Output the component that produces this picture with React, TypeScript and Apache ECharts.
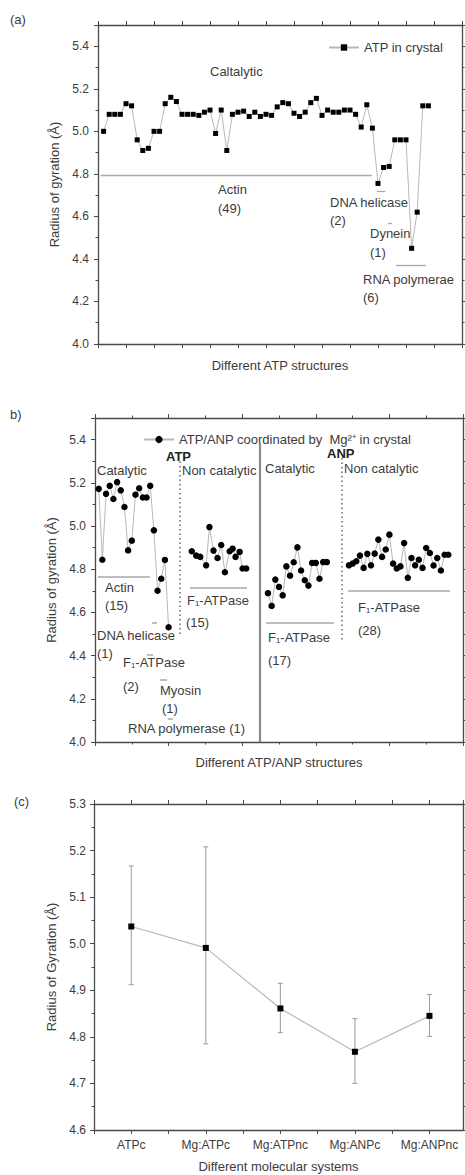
import React, { useEffect, useRef } from "react";
import * as echarts from "echarts";

const FONT = "'Liberation Sans', Arial, Helvetica, sans-serif";
const TXT = "#3c3c3c";
const AXC = "#4a4a4a";
const LINEC = "#b8b8b8";
const MARKC = "#a8a8a8";

// ---------------- panel (a) ----------------
const atpLegend = "ATP in crystal";
const atpRg = [
  5.0, 5.08, 5.08, 5.08, 5.13, 5.12, 4.96, 4.91, 4.92, 5.0,
  5.0, 5.13, 5.16, 5.14, 5.08, 5.08, 5.08, 5.075, 5.09, 5.1,
  4.99, 5.1, 4.91, 5.08, 5.09, 5.095, 5.07, 5.09, 5.07, 5.08,
  5.075, 5.115, 5.135, 5.13, 5.085, 5.07, 5.09, 5.135, 5.155, 5.075,
  5.1, 5.09, 5.09, 5.1, 5.1, 5.08, 5.02, 5.125, 5.015,
  4.755, 4.83, 4.835, 4.96, 4.96, 4.96, 4.45, 4.62, 5.12, 5.12,
];
// group marker segments [xStart, xEnd, y]
const aGroupLines = [
  [0.5, 48.9, 4.794],
  [49.8, 51.3, 4.717],
  [51.8, 52.5, 4.57],
  [53.2, 58.6, 4.372],
];

// ---------------- panel (b) ----------------
const bLegend = "ATP/ANP coordinated by  Mg²⁺ in crystal";
const catAtpStart = 1;
const catAtpRg = [
  5.172, 4.844, 5.149, 5.186, 5.125, 5.203, 5.165, 5.088, 4.887, 4.932,
  5.145, 5.175, 5.132, 5.132, 5.186, 4.98, 4.7, 4.756, 4.843, 4.531,
];
const nonCatAtpX = [26.3, 27.5, 28.6, 30.2, 31.1, 32.2, 33.3, 34.3, 35.3, 36.6, 37.4, 38.2, 39.3, 40.1, 41.1];
const nonCatAtpRg = [4.883, 4.863, 4.857, 4.818, 4.995, 4.886, 4.852, 4.912, 4.786, 4.883, 4.895, 4.857, 4.88, 4.803, 4.803];
const catAnpStart = 47;
const catAnpRg = [
  4.689, 4.63, 4.752, 4.718, 4.679, 4.813, 4.77, 4.832, 4.901, 4.794,
  4.749, 4.724, 4.829, 4.829, 4.756, 4.833, 4.833,
];
const nonCatAnpStart = 69;
const nonCatAnpRg = [
  4.818, 4.826, 4.837, 4.863, 4.806, 4.871, 4.818, 4.872, 4.937, 4.857,
  4.891, 4.96, 4.826, 4.803, 4.813, 4.921, 4.76, 4.852, 4.818, 4.844,
  4.806, 4.898, 4.875, 4.817, 4.852, 4.794, 4.867, 4.867,
];
const bGroupLines = [
  [0.8, 14.9, 4.767],
  [25.8, 41.3, 4.715],
  [46.5, 64.9, 4.551],
  [68.75, 96.5, 4.7],
  [15.5, 16.8, 4.55],
  [14.1, 15.8, 4.402],
  [17.7, 19.6, 4.286],
  [19.8, 21.2, 4.106],
];
const bSolidDivider = [44.7, 4.0, 5.385];
const bDottedDividers = [
  [23.0, 4.5, 5.3],
  [67.0, 4.475, 5.33],
];

// ---------------- panel (c) ----------------
const systems = ["ATPc", "Mg:ATPc", "Mg:ATPnc", "Mg:ANPc", "Mg:ANPnc"];
const rgMean = [5.037, 4.991, 4.861, 4.768, 4.845];
const rgLow = [4.912, 4.785, 4.809, 4.7, 4.801];
const rgHigh = [5.167, 5.208, 4.915, 4.839, 4.891];

// ---------------- annotations (pixel layout) ----------------
const notes: { x: number; y: number; t: string; b?: boolean }[] = [
  { x: 10, y: 19, t: "(a)" },
  { x: 210, y: 71, t: "Caltalytic" },
  { x: 218, y: 189, t: "Actin" },
  { x: 218, y: 208, t: "(49)" },
  { x: 330, y: 202, t: "DNA helicase" },
  { x: 330, y: 220, t: "(2)" },
  { x: 370, y: 233, t: "Dynein" },
  { x: 370, y: 252, t: "(1)" },
  { x: 363, y: 279, t: "RNA polymerae" },
  { x: 363, y: 297, t: "(6)" },
  { x: 10, y: 414, t: "b)" },
  { x: 166, y: 456, t: "ATP", b: true },
  { x: 97, y: 470, t: "Catalytic" },
  { x: 182, y: 470, t: "Non catalytic" },
  { x: 265, y: 468, t: "Catalytic" },
  { x: 327, y: 453, t: "ANP", b: true },
  { x: 344, y: 468, t: "Non catalytic" },
  { x: 105, y: 587, t: "Actin" },
  { x: 105, y: 605, t: "(15)" },
  { x: 187, y: 600, t: "F₁-ATPase" },
  { x: 186, y: 622, t: "(15)" },
  { x: 97, y: 635, t: "DNA helicase" },
  { x: 97, y: 653, t: "(1)" },
  { x: 123, y: 662, t: "F₁-ATPase" },
  { x: 123, y: 686, t: "(2)" },
  { x: 160, y: 690, t: "Myosin" },
  { x: 162, y: 708, t: "(1)" },
  { x: 128, y: 728, t: "RNA polymerase (1)" },
  { x: 268, y: 637, t: "F₁-ATPase" },
  { x: 268, y: 660, t: "(17)" },
  { x: 358, y: 607, t: "F₁-ATPase" },
  { x: 358, y: 630, t: "(28)" },
  { x: 14, y: 801, t: "(c)" },
];

const segs = (list: number[][], style: any) =>
  list.map((s) => [
    { coord: [s[0], s[2]], lineStyle: style },
    { coord: [s[1], s[2]] },
  ]);

const vsegs = (list: number[][], style: any) =>
  list.map((s) => [
    { coord: [s[0], s[1]], lineStyle: style },
    { coord: [s[0], s[2]] },
  ]);

export default function App() {
  const ref = useRef<HTMLDivElement>(null);
  useEffect(() => {
    if (!ref.current) return;
    const chart = echarts.init(ref.current, undefined, { renderer: "svg" });

    const axisLine = { show: true, onZero: false, lineStyle: { color: AXC, width: 1.3 } };
    const tick = { show: true, inside: false, length: 4, lineStyle: { color: AXC, width: 1 } };
    const minor = { show: true, splitNumber: 2, length: 2.5, lineStyle: { color: AXC, width: 1 } };
    const lbl = { color: TXT, fontSize: 12, fontFamily: FONT };
    const nameStyle = { color: TXT, fontSize: 13, fontFamily: FONT };
    const noSplit = { show: false };

    const xBase = (grid: number, pos: string, min: number, max: number, interval: number, useMinor: boolean) => ({
      type: "value",
      gridIndex: grid,
      position: pos,
      min,
      max,
      interval,
      axisLine,
      axisTick: tick,
      minorTick: useMinor ? minor : { show: false },
      splitLine: noSplit,
      minorSplitLine: noSplit,
      axisLabel: { show: false },
    });

    const yBase = (grid: number, pos: string, min: number, max: number, interval: number) => ({
      type: "value",
      gridIndex: grid,
      position: pos,
      min,
      max,
      interval,
      axisLine,
      axisTick: tick,
      minorTick: minor,
      splitLine: noSplit,
      minorSplitLine: noSplit,
      axisLabel: { show: false },
    });

    const option: any = {
      animation: false,
      backgroundColor: "#ffffff",
      textStyle: { fontFamily: FONT },
      grid: [
        { left: 98, top: 25, width: 364, height: 319 },
        { left: 95, top: 418, width: 368, height: 324 },
        { left: 94, top: 804, width: 369, height: 326 },
      ],
      legend: [
        {
          data: [atpLegend],
          left: 328,
          top: 41,
          padding: 0,
          itemWidth: 30,
          itemHeight: 8,
          textStyle: { color: TXT, fontSize: 13, fontFamily: FONT },
        },
        {
          data: [bLegend],
          left: 143,
          top: 433,
          padding: 0,
          itemWidth: 30,
          itemHeight: 9,
          textStyle: { color: TXT, fontSize: 13, fontFamily: FONT },
        },
      ],
      xAxis: [
        {
          ...xBase(0, "bottom", 0, 65, 5, false),
          name: "Different ATP structures",
          nameLocation: "middle",
          nameGap: 15,
          nameTextStyle: nameStyle,
        },
        xBase(0, "top", 0, 65, 5, false),
        {
          ...xBase(1, "bottom", 0, 100, 20, true),
          name: "Different ATP/ANP structures",
          nameLocation: "middle",
          nameGap: 14,
          nameTextStyle: nameStyle,
        },
        xBase(1, "top", 0, 100, 20, true),
        {
          ...xBase(2, "bottom", 0.5, 5.45, 0.5, false),
          axisLabel: {
            ...lbl,
            show: true,
            margin: 9,
            showMaxLabel: false,
            formatter: (v: number) => (Number.isInteger(v) ? systems[v - 1] : ""),
          },
          name: "Different molecular systems",
          nameLocation: "middle",
          nameGap: 30,
          nameTextStyle: nameStyle,
        },
        xBase(2, "top", 0.5, 5.45, 0.5, false),
      ],
      yAxis: [
        {
          ...yBase(0, "left", 4.0, 5.5, 0.2),
          axisLabel: { ...lbl, show: true, margin: 9, showMaxLabel: false, formatter: (v: number) => v.toFixed(1) },
          name: "Radius of gyration (Å)",
          nameLocation: "middle",
          nameGap: 33,
          nameTextStyle: nameStyle,
        },
        yBase(0, "right", 4.0, 5.5, 0.2),
        {
          ...yBase(1, "left", 4.0, 5.5, 0.2),
          axisLabel: { ...lbl, show: true, margin: 9, showMaxLabel: false, formatter: (v: number) => v.toFixed(1) },
          name: "Radius of gyration (Å)",
          nameLocation: "middle",
          nameGap: 32,
          nameTextStyle: nameStyle,
        },
        yBase(1, "right", 4.0, 5.5, 0.2),
        {
          ...yBase(2, "left", 4.6, 5.3, 0.1),
          axisLabel: { ...lbl, show: true, margin: 8, formatter: (v: number) => v.toFixed(1) },
          name: "Radius of Gyration (Å)",
          nameLocation: "middle",
          nameGap: 36,
          nameTextStyle: nameStyle,
        },
        yBase(2, "right", 4.6, 5.3, 0.1),
      ],
      series: [
        {
          name: atpLegend,
          type: "line",
          xAxisIndex: 0,
          yAxisIndex: 0,
          data: atpRg.map((v, i) => [i + 1, v]),
          symbol: "rect",
          symbolSize: 5,
          itemStyle: { color: "#000" },
          lineStyle: { color: LINEC, width: 1 },
          z: 3,
          markLine: {
            silent: true,
            symbol: "none",
            label: { show: false },
            data: segs(aGroupLines, { color: MARKC, width: 1.3, type: "solid" }),
          },
        },
        {
          name: bLegend,
          type: "line",
          xAxisIndex: 2,
          yAxisIndex: 2,
          data: catAtpRg.map((v, i) => [catAtpStart + i, v]),
          symbol: "circle",
          symbolSize: 6.5,
          itemStyle: { color: "#000" },
          lineStyle: { color: LINEC, width: 1 },
          z: 3,
          markLine: {
            silent: true,
            symbol: "none",
            label: { show: false },
            data: [
              ...segs(bGroupLines, { color: MARKC, width: 1.5, type: "solid" }),
              ...vsegs([bSolidDivider], { color: "#8a8a8a", width: 2.2, type: "solid" }),
              ...vsegs(bDottedDividers, { color: "#666", width: 1.5, type: [1.5, 3] }),
            ],
          },
        },
        {
          name: bLegend,
          type: "line",
          xAxisIndex: 2,
          yAxisIndex: 2,
          data: nonCatAtpRg.map((v, i) => [nonCatAtpX[i], v]),
          symbol: "circle",
          symbolSize: 6.5,
          itemStyle: { color: "#000" },
          lineStyle: { color: LINEC, width: 1 },
          z: 3,
        },
        {
          name: bLegend,
          type: "line",
          xAxisIndex: 2,
          yAxisIndex: 2,
          data: catAnpRg.map((v, i) => [catAnpStart + i, v]),
          symbol: "circle",
          symbolSize: 6.5,
          itemStyle: { color: "#000" },
          lineStyle: { color: LINEC, width: 1 },
          z: 3,
        },
        {
          name: bLegend,
          type: "line",
          xAxisIndex: 2,
          yAxisIndex: 2,
          data: nonCatAnpRg.map((v, i) => [nonCatAnpStart + i, v]),
          symbol: "circle",
          symbolSize: 6.5,
          itemStyle: { color: "#000" },
          lineStyle: { color: LINEC, width: 1 },
          z: 3,
        },
        {
          name: "errors",
          type: "custom",
          xAxisIndex: 4,
          yAxisIndex: 4,
          data: systems.map((_, i) => [i + 1, rgLow[i], rgHigh[i]]),
          encode: { x: 0, y: [1, 2] },
          z: 2,
          renderItem: (params: any, api: any) => {
            const x = api.value(0);
            const lo = api.coord([x, api.value(1)]);
            const hi = api.coord([x, api.value(2)]);
            const w = 2.5;
            const st = { stroke: "#9a9a9a", lineWidth: 1 };
            return {
              type: "group",
              children: [
                { type: "line", shape: { x1: lo[0], y1: lo[1], x2: hi[0], y2: hi[1] }, style: st },
                { type: "line", shape: { x1: lo[0] - w, y1: lo[1], x2: lo[0] + w, y2: lo[1] }, style: st },
                { type: "line", shape: { x1: hi[0] - w, y1: hi[1], x2: hi[0] + w, y2: hi[1] }, style: st },
              ],
            };
          },
        },
        {
          name: "mean",
          type: "line",
          xAxisIndex: 4,
          yAxisIndex: 4,
          data: rgMean.map((v, i) => [i + 1, v]),
          symbol: "rect",
          symbolSize: 6,
          itemStyle: { color: "#000" },
          lineStyle: { color: LINEC, width: 1.2 },
          z: 3,
        },
      ],
      graphic: notes.map((n) => ({
        type: "text",
        x: n.x,
        y: n.y,
        silent: true,
        style: {
          text: n.t,
          fill: n.b ? "#222" : TXT,
          fontSize: 13,
          fontFamily: FONT,
          fontWeight: n.b ? "bold" : "normal",
          align: "left",
          verticalAlign: "middle",
        },
      })),
    };

    chart.setOption(option);
    return () => chart.dispose();
  }, []);

  return (
    <div
      ref={ref}
      style={{ position: "absolute", left: 0, top: 0, width: 465, height: 1175, background: "#fff" }}
    />
  );
}
